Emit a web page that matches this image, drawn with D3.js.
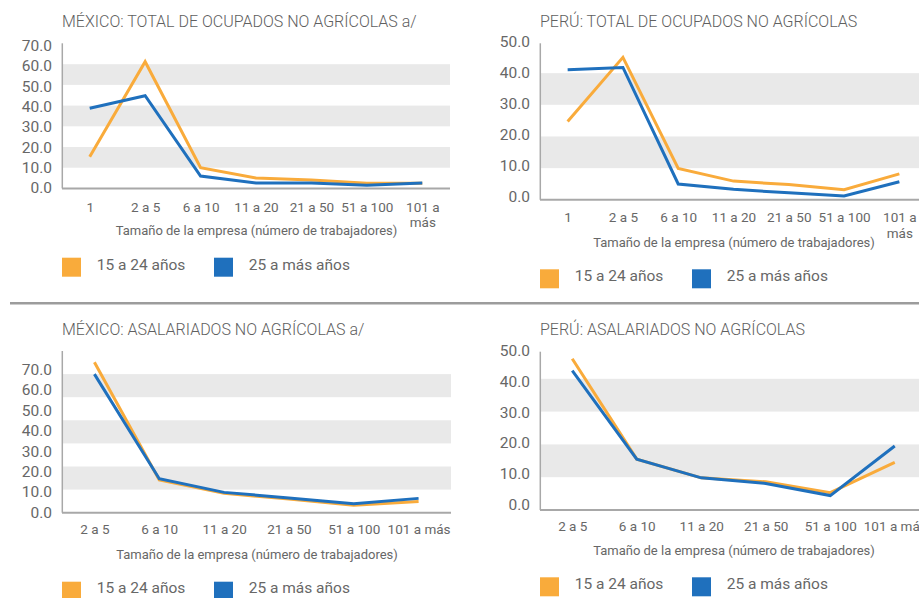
<!DOCTYPE html>
<html>
<head>
<meta charset="utf-8">
<script src="https://cdn.jsdelivr.net/npm/d3@7"></script>
<style>
  html, body { margin: 0; padding: 0; background: #fff; }
  svg { display: block; font-family: Roboto, "Liberation Sans", sans-serif; }
</style>
</head>
<body>
<svg id="chart" width="919" height="598"></svg>
<script>
// Firm-size categories (number of workers)
const sizesTotal = ["1", "2 a 5", "6 a 10", "11 a 20", "21 a 50", "51 a 100", "101 a más"];
const sizesAsal  = ["2 a 5", "6 a 10", "11 a 20", "21 a 50", "51 a 100", "101 a más"];

// Shares (%) by firm size, youth (15-24) and adults (25+)
const mxTotalYoung = [15.3, 61.2, 10.0, 5.0, 4.0, 2.5, 2.5];
const mxTotalAdult = [38.7, 44.8, 6.0, 2.6, 2.6, 1.5, 2.6];
const peTotalYoung = [24.7, 45.0, 9.9, 5.9, 4.8, 3.2, 8.2];
const peTotalAdult = [41.1, 41.8, 5.0, 3.3, 2.2, 1.2, 5.7];
const mxAsalYoung  = [65.1, 14.2, 8.4, 5.9, 3.2, 4.8];
const mxAsalAdult  = [60.0, 14.7, 8.8, 6.4, 3.9, 6.2];
const peAsalYoung  = [46.1, 15.5, 9.8, 8.6, 5.3, 14.5];
const peAsalAdult  = [42.5, 15.5, 9.8, 8.1, 4.4, 19.5];

const seriesNames = ["15 a 24 años", "25 a más años"];
const ticksMx = [0, 10, 20, 30, 40, 50, 60, 70];
const ticksPe = [0, 10, 20, 30, 40, 50];
const shadedBands = [[10, 20], [30, 40], [50, 60]];

const titles = [
  "MÉXICO: TOTAL DE OCUPADOS NO AGRÍCOLAS a/",
  "PERÚ: TOTAL DE OCUPADOS NO AGRÍCOLAS",
  "MÉXICO: ASALARIADOS NO AGRÍCOLAS a/",
  "PERÚ: ASALARIADOS NO AGRÍCOLAS"
];
const axisTitle = "Tamaño de la empresa (número de trabajadores)";

const COLORS = ["#F9AB3B", "#1F70BD"];
const GRID = "#E9E9E9";
const AXIS = "#A8A8A8";
const TEXT = "#676767";

// Panel layout
const panels = [
  { title: titles[0], cats: sizesTotal, series: [mxTotalYoung, mxTotalAdult], ticks: ticksMx, max: 70,
    x0: 62, x1: 450, yB: 188.4, yT: 43.5, labB: 187, labT: 45, axisTop: 43.3,
    titleY: 26.7, xLabY: 211.7, wrap: true, wrapY: 227.3, axTitleY: 235, legY: 257.7, legTextY: 270 },
  { title: titles[1], cats: sizesTotal, series: [peTotalYoung, peTotalAdult], ticks: ticksPe, max: 50,
    x0: 540, x1: 927, yB: 199.8, yT: 41.5, labB: 195.5, labT: 41, axisTop: 43.3,
    titleY: 26.7, xLabY: 222.3, wrap: true, wrapY: 238.3, axTitleY: 246.7, legY: 269.3, legTextY: 281 },
  { title: titles[2], cats: sizesAsal, series: [mxAsalYoung, mxAsalAdult], ticks: ticksMx, max: 70,
    x0: 62, x1: 451, yB: 512.7, yT: 351, labB: 511.5, labT: 369, axisTop: 351,
    titleY: 335, xLabY: 534.3, wrap: false, axTitleY: 559.3, legY: 581.7, legTextY: 592.7 },
  { title: titles[3], cats: sizesAsal, series: [peAsalYoung, peAsalAdult], ticks: ticksPe, max: 50,
    x0: 540, x1: 927, yB: 510, yT: 346, labB: 504, labT: 350, axisTop: 351.7,
    titleY: 335, xLabY: 531, wrap: false, axTitleY: 555, legY: 577.3, legTextY: 588.7 }
];

const svg = d3.select("#chart");

// Horizontal rule between the upper and lower rows
svg.append("line")
  .attr("x1", 10).attr("x2", 919).attr("y1", 303.3).attr("y2", 303.3)
  .attr("stroke", "#9C9C9C").attr("stroke-width", 2.5);

panels.forEach(p => {
  const g = svg.append("g");
  const x = d3.scalePoint().domain(p.cats).range([p.x0, p.x1]).padding(0.5);
  const y = d3.scaleLinear().domain([0, p.max]).range([p.yB, p.yT]);
  const yLab = d3.scaleLinear().domain([0, p.max]).range([p.labB, p.labT]);

  // alternating shaded bands
  g.selectAll("rect.band")
    .data(shadedBands.filter(b => b[1] <= p.max))
    .join("rect")
    .attr("class", "band")
    .attr("x", p.x0).attr("width", p.x1 - p.x0)
    .attr("y", d => y(d[1])).attr("height", d => y(d[0]) - y(d[1]))
    .attr("fill", GRID);

  // axis lines
  g.append("line").attr("x1", p.x0 + 0.3).attr("x2", p.x0 + 0.3)
    .attr("y1", p.axisTop).attr("y2", y(0))
    .attr("stroke", AXIS).attr("stroke-width", 1.5);
  g.append("line").attr("x1", p.x0).attr("x2", p.x1)
    .attr("y1", y(0)).attr("y2", y(0))
    .attr("stroke", AXIS).attr("stroke-width", 2);

  // y tick labels
  const ya = g.append("g").attr("transform", `translate(${p.x0},0)`)
    .call(d3.axisLeft(yLab).tickValues(p.ticks).tickFormat(d3.format(".1f")).tickSize(0).tickPadding(10));
  ya.select(".domain").remove();
  ya.selectAll("text").attr("fill", TEXT).attr("font-size", "15.5px").attr("dy", "0.36em")
    .attr("font-family", "Roboto, sans-serif");

  // x tick labels
  const xa = g.append("g").attr("transform", `translate(0,${p.xLabY})`)
    .call(d3.axisBottom(x).tickSize(0).tickPadding(0));
  xa.select(".domain").remove();
  xa.selectAll("text")
    .attr("y", 0).attr("dy", 0)
    .attr("fill", TEXT).attr("font-size", "13.5px").attr("font-family", "Roboto, sans-serif")
    .each(function (d) {
      if (p.wrap && d === "101 a más") {
        const t = d3.select(this).text(null);
        t.append("tspan").attr("x", 0).attr("y", 0).text("101 a");
        t.append("tspan").attr("x", 0).attr("y", p.wrapY - p.xLabY).text("más");
      }
    });

  // series lines
  const line = d3.line().x((d, i) => x(p.cats[i])).y(d => y(d));
  p.series.forEach((s, k) => {
    g.append("path").datum(s)
      .attr("d", line)
      .attr("fill", "none")
      .attr("stroke", COLORS[k])
      .attr("stroke-width", 3)
      .attr("stroke-linejoin", "miter");
  });

  // chart title
  g.append("text").attr("x", p.x0).attr("y", p.titleY)
    .attr("fill", "#606060").attr("font-size", "16px").attr("font-weight", 300)
    .text(p.title);

  // x-axis title
  g.append("text").attr("x", (p.x0 + p.x1) / 2 + 0.5).attr("y", p.axTitleY)
    .attr("text-anchor", "middle").attr("fill", TEXT).attr("font-size", "13px")
    .text(axisTitle);

  // legend
  const legX = [p.x0, p.x0 + 152];
  seriesNames.forEach((name, k) => {
    g.append("rect").attr("x", legX[k]).attr("y", p.legY)
      .attr("width", 19).attr("height", 19).attr("fill", COLORS[k]);
    g.append("text").attr("x", legX[k] + 34.7).attr("y", p.legTextY)
      .attr("fill", TEXT).attr("font-size", "15.5px")
      .text(name);
  });
});
</script>
</body>
</html>
